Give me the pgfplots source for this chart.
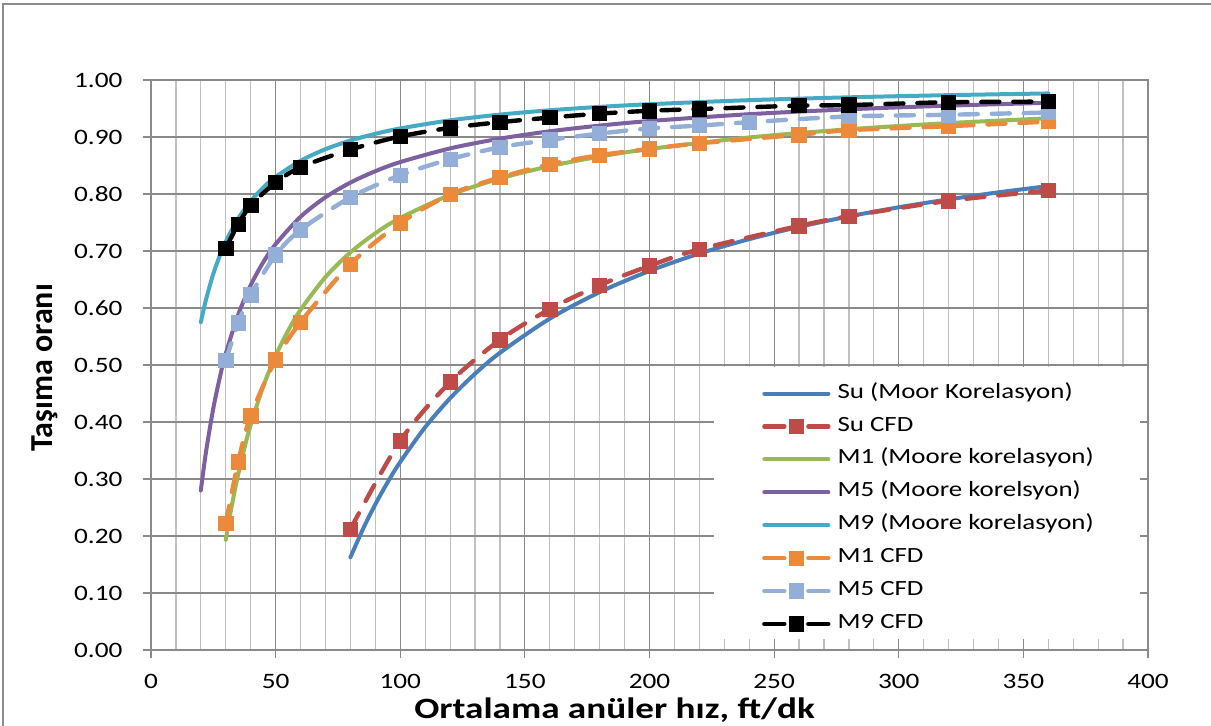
\documentclass[border=0pt]{standalone}
\usepackage{pgfplots}
\pgfplotsset{compat=1.18}
\usepackage{fontspec}
\setmainfont{Carlito}
\newfontfamily\widefont[FakeStretch=1.24]{Carlito}
\newfontfamily\titlefont[FakeStretch=1.26]{Carlito}

\definecolor{framegray}{HTML}{8C8C8C}
\definecolor{gridmajor}{HTML}{8A8A8A}
\definecolor{gridminor}{HTML}{C0C0C0}
\definecolor{suMoore}{HTML}{4A7EBB}
\definecolor{suCFD}{HTML}{BE4B48}
\definecolor{mOneMoore}{HTML}{98B954}
\definecolor{mFiveMoore}{HTML}{7D60A0}
\definecolor{mNineMoore}{HTML}{46AAC5}
\definecolor{mOneCFD}{HTML}{EC8A3C}
\definecolor{mFiveCFD}{HTML}{93AFD8}
\definecolor{mNineCFD}{HTML}{000000}

\pgfplotsset{
  moore/.style={line width=4pt, smooth, mark=none, line cap=round,
    legend image code/.code={\draw[##1] (2pt,0pt) -- (66pt,0pt);}},
  cfd/.style={line width=4.4pt, smooth, line cap=round,
    dash pattern=on 18pt off 14pt,
    mark=square*, mark size=7.2pt, mark options={solid, fill=#1, draw=#1, line width=0.8pt},
    color=#1,
    legend image code/.code={
      \draw[##1, mark=none, dash pattern=on 20pt off 24pt on 20pt] (2pt,0pt) -- (66pt,0pt);
      \draw[##1, only marks] plot coordinates {(34pt,0pt)};}},
}

\begin{document}
\begin{tikzpicture}[x=1pt,y=1pt]
\useasboundingbox (0,0) rectangle (1211,726);
\draw[framegray, line width=2.5pt] (3,0) -- (3,722) -- (1211,722);
\begin{axis}[
  at={(151pt,76pt)}, anchor=south west,
  scale only axis, width=997pt, height=570pt,
  xmin=0, xmax=400, ymin=0, ymax=1,
  xtick={0,50,...,400},
  minor xtick={10,20,30,40,60,70,80,90,110,120,130,140,160,170,180,190,210,220,230,240,260,270,280,290,310,320,330,340,360,370,380,390},
  ytick={0,0.1,0.2,0.3,0.4,0.5,0.6,0.7,0.8,0.9,1.0},
  xmajorgrids, xminorgrids, ymajorgrids,
  major grid style={gridmajor, line width=1.2pt},
  minor grid style={gridminor, line width=1.2pt},
  axis line style={gridmajor, line width=1.2pt},
  tick style={gridmajor, line width=1.2pt},
  major tick length=8pt, minor tick length=0pt,
  tick align=outside, xtick pos=bottom, ytick pos=left,
  xticklabel style={font=\widefont\fontsize{22}{26}\selectfont, yshift=-13pt,
    /pgf/number format/assume math mode=true},
  yticklabel style={font=\widefont\fontsize{22}{26}\selectfont, xshift=-17pt,
    /pgf/number format/.cd, fixed, fixed zerofill, precision=2, assume math mode=true},
  xlabel={Ortalama anüler hız, ft/dk},
  ylabel={Taşıma oranı},
  xlabel style={font=\titlefont\bfseries\fontsize{29.5}{34}\selectfont, at={(axis description cs:0.465,-0.1055)}, anchor=center},
  ylabel style={font=\bfseries\fontsize{32}{36}\selectfont, at={(axis description cs:-0.1063,0.495)}, anchor=center, rotate=0},
  legend style={at={(axis description cs:0.6128,0.4667)}, anchor=north west,
    draw=none, fill=none, inner xsep=0pt, inner ysep=0pt,
    font=\widefont\fontsize{21.7}{26}\selectfont,
    nodes={inner sep=0pt, text height=14pt, text depth=5pt},
    row sep=13.9pt,
    /tikz/every odd column/.append style={column sep=7pt}},
  legend cell align=left,
]
\addplot[moore, color=suMoore] coordinates {
  (80,0.1625) (85,0.2118) (90,0.2556) (95,0.2947) (100,0.3300) (110,0.3909)
  (120,0.4417) (130,0.4846) (140,0.5214) (160,0.5813) (180,0.6278) (200,0.6650)
  (220,0.6955) (240,0.7208) (260,0.7423) (280,0.7607) (300,0.7767) (320,0.7906)
  (340,0.8029) (360,0.8139)};
\addlegendentry{Su (Moor Korelasyon)}
\addplot[cfd=suCFD] coordinates {
  (80,0.212) (100,0.367) (120,0.470) (140,0.544) (160,0.598) (180,0.640)
  (200,0.674) (220,0.703) (260,0.744) (280,0.761) (320,0.788) (360,0.806)};
\addlegendentry{Su CFD}
\addplot[moore, color=mOneMoore] coordinates {
  (30,0.1933) (32,0.2438) (35,0.3086) (38,0.3632) (40,0.3950) (45,0.4622)
  (50,0.5160) (55,0.5600) (60,0.5967) (70,0.6543) (80,0.6975) (90,0.7311)
  (100,0.7580) (120,0.7983) (140,0.8271) (160,0.8488) (180,0.8656) (200,0.8790)
  (240,0.8992) (280,0.9136) (320,0.9244) (360,0.9328)};
\addlegendentry{M1 (Moore korelasyon)}
\addplot[moore, color=mFiveMoore] coordinates {
  (20,0.2800) (22,0.3455) (25,0.4240) (28,0.4857) (30,0.5200) (35,0.5886)
  (40,0.6400) (45,0.6800) (50,0.7120) (60,0.7600) (70,0.7943) (80,0.8200)
  (90,0.8400) (100,0.8560) (120,0.8800) (140,0.8971) (160,0.9100) (180,0.9200)
  (200,0.9280) (240,0.9400) (280,0.9486) (320,0.9550) (360,0.9600)};
\addlegendentry{M5 (Moore korelsyon)}
\addplot[moore, color=mNineMoore] coordinates {
  (20,0.5750) (22,0.6136) (25,0.6600) (28,0.6964) (30,0.7167) (35,0.7571)
  (40,0.7875) (45,0.8111) (50,0.8300) (60,0.8583) (70,0.8786) (80,0.8938)
  (90,0.9056) (100,0.9150) (120,0.9292) (140,0.9393) (160,0.9469) (180,0.9528)
  (200,0.9575) (240,0.9646) (280,0.9696) (320,0.9734) (360,0.9764)};
\addlegendentry{M9 (Moore korelasyon)}
\addplot[cfd=mOneCFD] coordinates {
  (30,0.222) (35,0.330) (40,0.411) (50,0.509) (60,0.575) (80,0.677)
  (100,0.749) (120,0.799) (140,0.829) (160,0.852) (180,0.868) (200,0.879)
  (220,0.889) (260,0.904) (280,0.912) (320,0.919) (360,0.927)};
\addlegendentry{M1 CFD}
\addplot[cfd=mFiveCFD] coordinates {
  (30,0.508) (35,0.574) (40,0.623) (50,0.693) (60,0.737) (80,0.794)
  (100,0.833) (120,0.861) (140,0.882) (160,0.895) (180,0.906) (200,0.915)
  (220,0.920) (240,0.926) (280,0.936) (320,0.939) (360,0.943)};
\addlegendentry{M5 CFD}
\addplot[cfd=mNineCFD] coordinates {
  (30,0.705) (35,0.747) (40,0.780) (50,0.820) (60,0.847) (80,0.878)
  (100,0.901) (120,0.916) (140,0.926) (160,0.934) (180,0.941) (200,0.946)
  (220,0.949) (260,0.955) (280,0.956) (320,0.961) (360,0.962)};
\addlegendentry{M9 CFD}
% white legend panel over the grid
\fill[white] (axis cs:225.9,0.0193) rectangle (axis cs:396.8,0.4965);
\end{axis}
\end{tikzpicture}
\end{document}
